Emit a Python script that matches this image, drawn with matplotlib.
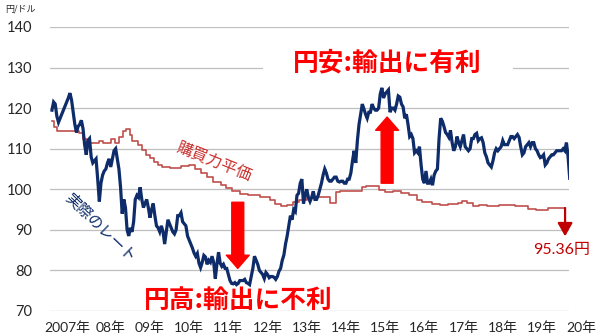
import matplotlib
matplotlib.use("Agg")
import matplotlib.pyplot as plt
from matplotlib.patches import FancyArrowPatch, Rectangle
import numpy as np

# ---------------- data ----------------
# Actual USD/JPY rate, semi-monthly readings (24 per year), 2007-2019
rate_2007 = [119.5, 121.5, 121, 118, 116.5, 117.5, 118.5, 119.5, 120.5, 121.5, 122.5, 123.7,
             122, 119, 116, 114, 115.5, 116, 117, 115, 111, 108.5, 112, 112.5]
rate_2008 = [108, 106.5, 107, 107.5, 102.5, 97, 101.5, 103.5, 104.5, 105, 106.5, 107.5,
             105.5, 107.5, 109.5, 110, 107.5, 105, 100.5, 94, 97.5, 95.5, 90, 88.5]
rate_2009 = [90.5, 89.5, 92, 97.5, 98.5, 98, 100.5, 97.5, 95.5, 96.5, 97.5, 95.5,
             93, 95, 96.5, 93.5, 91, 90.5, 89.5, 91, 89.5, 86.5, 89.5, 92.5]
rate_2010 = [91.5, 90.5, 89.5, 89, 90, 93.5, 93.5, 94.2, 92, 91.5, 91, 88.5,
             87.5, 86.5, 85.5, 84.3, 83.5, 84.2, 81.8, 80.7, 82, 83.7, 83.3, 81.5]
rate_2011 = [82.5, 82, 83.5, 82, 78, 81.5, 84.5, 81.8, 81, 81.5, 80.5, 80.5,
             79, 77.5, 76.8, 76.7, 77, 76.5, 76.8, 77.5, 77.5, 77.5, 77.8, 77]
rate_2012 = [76.8, 76.5, 78.5, 80.5, 83.5, 82.5, 81.5, 80, 79.5, 79, 78, 79.5,
             79, 78.2, 78.5, 78.5, 78.3, 77.8, 78.5, 79.8, 80.5, 82.5, 83.8, 86.5]
rate_2013 = [88.5, 91, 93.5, 92.5, 95, 94.5, 98.5, 99, 101.5, 102.5, 96.5, 98.5,
             100, 98, 97, 98, 99.5, 97.5, 97.5, 98.5, 100, 101.5, 103.5, 105]
rate_2014 = [104, 102.5, 102, 102, 102.5, 103, 103, 102, 101.8, 102, 102, 101.5,
             101.5, 102.5, 102.5, 104, 107, 109.5, 106.5, 112, 116, 118.5, 121, 119.8]
rate_2015 = [118.5, 117.5, 119, 119, 121, 120, 119.5, 119.5, 120, 123.5, 125, 122.5,
             123.5, 124, 124.5, 119, 120, 120, 119.5, 121, 123, 122.7, 121, 120.3]
rate_2016 = [117.5, 118.5, 116, 113, 113.5, 112.5, 109, 109.5, 109, 110.5, 106, 102.5,
             101.5, 104.5, 101.5, 101.5, 102.5, 101, 103.5, 104.5, 105, 112.5, 117.5, 116.8]
rate_2017 = [115.5, 114, 113.5, 112.8, 114.5, 111.5, 109.5, 110.5, 113, 111.5, 110.5, 112,
             113.5, 110.5, 110, 109.5, 110, 112.5, 112.5, 113.5, 113.8, 112, 112.5, 112.7]
rate_2018 = [111.5, 109, 108, 106.5, 106, 105.5, 107, 109, 110, 109.5, 110, 110.5,
             112, 111, 111, 111, 112, 113, 113, 112.5, 113, 113.5, 112.8, 110.5]
rate_2019 = [108.5, 109, 110.5, 111, 111.5, 110.5, 111.5, 111.5, 110, 109.5, 108.5, 107.8,
             108, 108.5, 106, 106.5, 107.5, 108, 108.5, 108.5, 109, 109.5, 109.5, 109.5]
rate_2020 = [109.5, 110, 109.5, 111.5, 108, 102.7]

actual_rate = (rate_2007 + rate_2008 + rate_2009 + rate_2010 + rate_2011 + rate_2012 +
               rate_2013 + rate_2014 + rate_2015 + rate_2016 + rate_2017 + rate_2018 +
               rate_2019 + rate_2020)
rate_dates = [2007 + i / 24 for i in range(len(actual_rate))]

# Purchasing power parity (step changes)
ppp_dates = [2007.0, 2007.05, 2007.12, 2007.7, 2007.8, 2007.9, 2008.2, 2008.3, 2008.5, 2008.6,
             2008.7, 2008.8, 2008.9, 2009.0, 2009.05, 2009.2, 2009.3, 2009.4, 2009.5, 2009.6,
             2009.7, 2009.8, 2010.0, 2010.3, 2010.5, 2010.65, 2010.8, 2010.95, 2011.1, 2011.3,
             2011.45, 2011.6, 2011.8, 2012.0, 2012.3, 2012.55, 2012.7, 2012.85, 2013.0, 2013.15,
             2013.3, 2013.5, 2013.7, 2014.1, 2014.25, 2014.35, 2014.9, 2015.0, 2015.35, 2015.5,
             2015.7, 2015.9, 2016.1, 2016.3, 2016.45, 2016.7, 2016.9, 2017.1, 2017.35, 2017.45,
             2017.6, 2017.75, 2017.9, 2018.1, 2018.4, 2018.6, 2018.8, 2019.15, 2019.35, 2019.65,
             2019.95, 2020.09]
ppp_values = [116.8, 115.3, 114.3, 113.8, 112.5, 111.5, 112.0, 111.3, 112.3, 111.5,
              113.0, 114.3, 114.8, 113.5, 112.0, 111.0, 109.6, 108.5, 107.8, 106.8,
              106.0, 105.4, 105.2, 105.8, 106.0, 105.0, 104.0, 103.0, 101.8, 101.0,
              100.2, 99.6, 98.8, 98.5, 98.0, 97.3, 96.3, 95.8, 96.2, 96.8,
              97.3, 97.8, 98.0, 96.6, 99.3, 99.7, 100.5, 100.8, 99.8, 99.3,
              99.6, 99.0, 98.5, 97.3, 96.8, 96.3, 96.1, 96.3, 96.6, 97.1,
              96.6, 95.9, 96.1, 95.9, 96.1, 96.2, 96.0, 95.2, 95.0, 95.5,
              95.3, 95.36]

year_labels = ["2007年", "08年", "09年", "10年", "11年", "12年", "13年",
               "14年", "15年", "16年", "17年", "18年", "19年", "20年"]
label_years = [2007.4] + [y + 0.5 for y in range(2008, 2021)]
y_ticks = [70, 80, 90, 100, 110, 120, 130, 140]

# ---------------- style ----------------
NAVY = "#0e2c69"
PPP_RED = "#c0504d"
RED = "#ff0000"
DARK_RED = "#c00000"
JP = ["Noto Sans CJK JP", "DejaVu Sans"]
NUM = ["Lato", "Noto Sans CJK JP", "DejaVu Sans"]

fig = plt.figure(figsize=(6.0, 3.34), dpi=100)
fig.subplots_adjust(left=50 / 600, right=569 / 600, bottom=1 - 311 / 334, top=1 - 27 / 334)
ax = fig.add_subplot(111)

ax.set_xlim(2006.95, 2020.19)
ax.set_ylim(70, 140)
for s in ax.spines.values():
    s.set_visible(False)
ax.set_yticks(y_ticks)
ax.set_yticklabels([str(v) for v in y_ticks], family=NUM, fontsize=10.5, color="#262626")
ax.tick_params(axis="y", length=0, pad=13)
ax.set_xticks([])
ax.grid(axis="y", color="#bfbfbf", linewidth=0.9)

# white gap behind the top caption
ax.add_patch(Rectangle((2012.38, 127.5), 6.38, 5.5, facecolor="white",
                       edgecolor="none", zorder=1.8))

# lines
ax.plot(ppp_dates, ppp_values, drawstyle="steps-post", color=PPP_RED, linewidth=1.2, zorder=3)
ax.plot(rate_dates, actual_rate, color=NAVY, linewidth=2.3, zorder=4, solid_joinstyle="miter")

# x labels
for yr, lab in zip(label_years, year_labels):
    ax.text(yr, -0.035, lab, transform=ax.get_xaxis_transform(), ha="center", va="top",
            family=NUM, fontsize=10, color="#262626", clip_on=False)

# unit label
fig.text(5 / 600, 1 - 9 / 334, "円/ドル", family=JP, fontsize=6.5, ha="left", va="center",
         color="#262626")

# big arrows
arrow_style = "simple,head_length=9.5,head_width=16.5,tail_width=8.6"
ax.add_patch(FancyArrowPatch((2011.74, 96.8), (2011.74, 80.5), arrowstyle=arrow_style,
                             mutation_scale=1, color=RED, shrinkA=0, shrinkB=0, zorder=5))
ax.add_patch(FancyArrowPatch((2015.55, 101.5), (2015.55, 117.8), arrowstyle=arrow_style,
                             mutation_scale=1, color=RED, shrinkA=0, shrinkB=0, zorder=5))

# small arrow at PPP end
ax.add_patch(FancyArrowPatch((2020.09, 95.4), (2020.09, 88.4),
                             arrowstyle="-|>,head_length=0.8,head_width=0.45",
                             mutation_scale=10, color=DARK_RED, linewidth=1.6,
                             shrinkA=0, shrinkB=0, zorder=5, clip_on=False))
ax.text(2020.01, 85.1, "95.36円", family=NUM, fontsize=11.5, color=DARK_RED,
        ha="center", va="center", clip_on=False, zorder=6)

# captions
ax.text(2015.55, 131.1, "円安:輸出に有利", family=JP, fontsize=18.5, fontweight="bold",
        color=RED, ha="center", va="center", zorder=6)
ax.text(2011.75, 72.5, "円高:輸出に不利", family=JP, fontsize=18.5, fontweight="bold",
        color=RED, ha="center", va="center", zorder=6)

# series labels
ax.text(2011.13, 106.7, "購買力平価", family=JP, fontsize=11.5, color="#c8302c",
        rotation=-22, rotation_mode="anchor", ha="center", va="center", zorder=6)
ax.text(2008.22, 90.4, "実際のレート", family=JP, fontsize=11, color=NAVY,
        rotation=-44, rotation_mode="anchor", ha="center", va="center", zorder=6)

fig.savefig("out.png", dpi=100)
